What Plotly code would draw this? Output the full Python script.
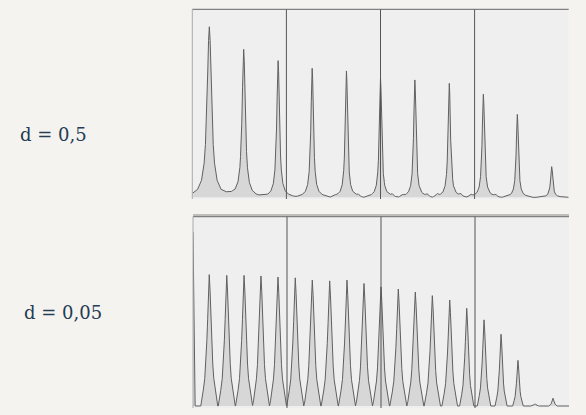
import numpy as np
import plotly.graph_objects as go

W, H = 586, 415

# ---- data ----
# top panel (d = 0,5): peak centres (axis units, 4 units = panel width), heights, half-widths (px)
top_x = [0.181, 0.546, 0.912, 1.274, 1.638, 2.0, 2.365, 2.731, 3.093, 3.454, 3.819]
top_h = [0.907, 0.787, 0.727, 0.686, 0.672, 0.636, 0.624, 0.606, 0.548, 0.441, 0.163]
top_w = [2.6, 1.9, 1.6, 1.5, 1.4, 1.4, 1.4, 1.4, 1.4, 1.3, 1.3]
# small side bumps in top panel
top_bx = [1.510, 1.762, 2.124, 2.230, 2.496, 2.602, 2.850, 2.956, 3.222]
top_bh = [0.006, 0.008, 0.010, 0.010, 0.012, 0.012, 0.012, 0.012, 0.010]

# bottom panel (d = 0,05)
bot_x = [0.0, 0.173, 0.359, 0.543, 0.723, 0.904, 1.088, 1.269, 1.454, 1.638, 1.819,
         2.0, 2.184, 2.365, 2.546, 2.731, 2.912, 3.096, 3.277, 3.457, 3.638, 3.830]
bot_h = [0.92, 0.694, 0.690, 0.690, 0.687, 0.681, 0.677, 0.665, 0.661, 0.665, 0.647,
         0.629, 0.618, 0.602, 0.583, 0.560, 0.516, 0.455, 0.379, 0.241, 0.012, 0.041]
bot_w = [0.6, 2.4, 2.4, 2.4, 2.4, 2.4, 2.4, 2.4, 2.4, 2.4, 2.4,
         2.4, 2.4, 2.4, 2.3, 2.2, 2.0, 1.9, 1.7, 1.5, 1.2, 1.2]

# peak line shapes (offset in half-widths -> relative height)
top_prof_off = [0, 0.3, 0.6, 1.0, 1.5, 2.0, 3.0, 4.5, 6.5, 9.0, 12.0]
top_prof_val = [1, 0.92, 0.74, 0.5, 0.31, 0.2, 0.1, 0.047, 0.023, 0.012, 0.0]
bot_prof_off = [0, 0.33, 0.67, 1.0, 1.46, 1.88, 2.5, 3.1, 3.55]
bot_prof_val = [1, 0.88, 0.66, 0.5, 0.32, 0.21, 0.12, 0.04, 0.0]

labels = ["d = 0,5", "d = 0,05"]

PX = 94.1  # pixels per axis unit


def build(cx, ch, cw, off, val):
    knots = [0.0, 4.0]
    for c, w in zip(cx, cw):
        for o in off:
            knots += [c - o * w / PX, c + o * w / PX]
    xs = np.unique(np.clip(knots, 0, 4))
    ys = np.zeros_like(xs)
    for c, h, w in zip(cx, ch, cw):
        ys += h * np.interp(np.abs(xs - c) * PX / w, off, val, right=0.0)
    return xs, ys


tx, ty = build(top_x + top_bx, top_h + top_bh, top_w + [1.2] * len(top_bx),
               top_prof_off, top_prof_val)
bx, by = build(bot_x, bot_h, bot_w, bot_prof_off, bot_prof_val)

line_col = "#606060"
fill_col = "#d7d7d7"

fig = go.Figure()
fig.add_trace(go.Scatter(x=tx, y=ty, mode="lines", fill="tozeroy",
                         line=dict(color=line_col, width=1), fillcolor=fill_col,
                         xaxis="x", yaxis="y", hoverinfo="skip"))
fig.add_trace(go.Scatter(x=bx, y=by, mode="lines", fill="tozeroy",
                         line=dict(color=line_col, width=1), fillcolor=fill_col,
                         xaxis="x2", yaxis="y2", hoverinfo="skip"))

ax = dict(range=[0, 4], showgrid=False, zeroline=False, showticklabels=False,
          ticks="", showline=False, fixedrange=True)
fig.update_layout(
    width=W, height=H, margin=dict(l=0, r=0, t=0, b=0),
    paper_bgcolor="#f4f3ef", plot_bgcolor="#efefef", showlegend=False,
    xaxis=dict(ax, domain=[192.3 / W, 568.7 / W]),
    yaxis=dict(ax, range=[-0.009, 1], domain=[1 - 199 / H, 1 - 9.3 / H]),
    xaxis2=dict(ax, domain=[193 / W, 569 / W]),
    yaxis2=dict(ax, range=[-0.0106, 1], domain=[1 - 408 / H, 1 - 216.7 / H]),
)

shapes = []
for xr, yr in (("x", "y domain"), ("x2", "y2 domain")):
    for g in (1, 2, 3):
        shapes.append(dict(type="line", xref=xr, yref=yr, x0=g, x1=g, y0=0, y1=1,
                           line=dict(color="#555555", width=1), layer="above"))
    shapes.append(dict(type="line", xref=xr + " domain", yref=yr, x0=0, x1=1, y0=1, y1=1,
                       line=dict(color="#666666", width=1), layer="above"))
    shapes.append(dict(type="line", xref=xr + " domain", yref=yr, x0=0, x1=0, y0=0, y1=1,
                       line=dict(color="#aaaaaa", width=1), layer="above"))
# second top line of the lower panel
shapes.append(dict(type="line", xref="paper", yref="paper", x0=193 / W, x1=569 / W,
                   y0=1 - 215 / H, y1=1 - 215 / H, line=dict(color="#888888", width=1)))
fig.update_layout(shapes=shapes)

font = dict(family="DejaVu Serif, Liberation Serif, serif", size=18, color="#263b55")
fig.add_annotation(text=labels[0], xref="paper", yref="paper", x=18 / W, y=1 - 134 / H,
                   xanchor="left", yanchor="middle", showarrow=False, font=font)
fig.add_annotation(text=labels[1], xref="paper", yref="paper", x=22 / W, y=1 - 312 / H,
                   xanchor="left", yanchor="middle", showarrow=False, font=font)

fig.write_html("out.html")
